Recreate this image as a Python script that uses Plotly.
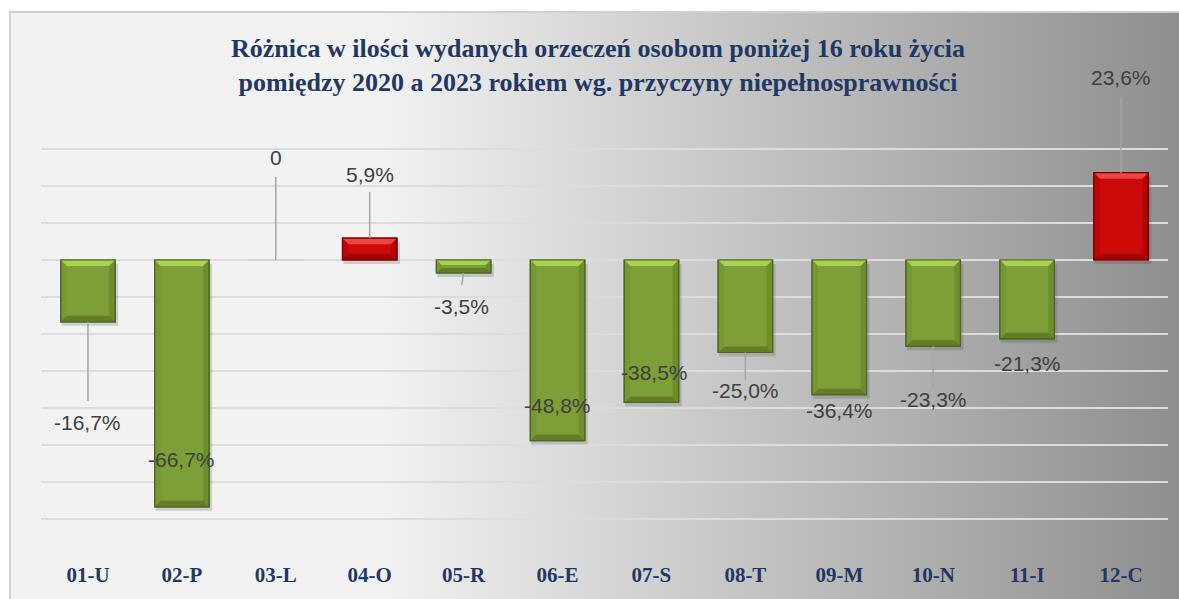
import base64, struct, zlib
import plotly.graph_objects as go

# ---------------- data ----------------
categories = ["01-U", "02-P", "03-L", "04-O", "05-R", "06-E",
              "07-S", "08-T", "09-M", "10-N", "11-I", "12-C"]
values = [-16.7, -66.7, 0.0, 5.9, -3.5, -48.8, -38.5, -25.0, -36.4, -23.3, -21.3, 23.6]
title_text = ("Różnica w ilości wydanych orzeczeń osobom poniżej 16 roku życia<br>"
              "pomiędzy 2020 a 2023 rokiem wg. przyczyny niepełnosprawności")
grid_ticks = [-80, -70, -60, -50, -40, -30, -20, -10, 0, 10, 20, 30]

# label placement (layout, not data)
label_y = [-43.8, -54.0, 27.6, 23.2, -12.7, -39.2, -30.3, -35.4, -40.8, -37.8, -28.1, 49.2]
label_dx = [0, 0, 0, 0, -0.02, 0, 0.03, 0, 0, 0, 0, 0]
leader_end = [-38.1, None, 22.4, 18.4, -6.8, None, None, -32.4, None, -34.6, None, 44.0]

# ---------------- geometry ----------------
W, H = 1179, 599
ML, MR, MT, MB = 41, 11, 68, 43
PX_PER_UNIT = 3.7
plot_h = H - MT - MB
plot_w = W - ML - MR
y_min = -80
y_max = y_min + plot_h / PX_PER_UNIT
px_per_cat = plot_w / len(categories)
BAR_W = 0.58


def px2paper_x(px):
    return (px - ML) / plot_w


def px2paper_y(py):
    return (H - MB - py) / plot_h


# ---------------- background gradient image ----------------
def gradient_png():
    x0 = 10
    w = W - x0
    row = bytearray([0])
    for i in range(w):
        px = x0 + i
        if px < 380:
            c = 242
        else:
            c = int(round(242 - (px - 380) * 0.125))
        row += bytes([c, c, c])
    raw = bytes(row) + bytes(row)

    def chunk(tag, data):
        return (struct.pack(">I", len(data)) + tag + data +
                struct.pack(">I", zlib.crc32(tag + data) & 0xffffffff))

    png = b"\x89PNG\r\n\x1a\n"
    png += chunk(b"IHDR", struct.pack(">IIBBBBB", w, 2, 8, 2, 0, 0, 0))
    png += chunk(b"IDAT", zlib.compress(raw, 9))
    png += chunk(b"IEND", b"")
    return "data:image/png;base64," + base64.b64encode(png).decode()


fig = go.Figure()

xs = list(range(len(categories)))
green = "#7d9f37"
red = "#cc0a0a"
bar_colors = [red if v > 0 else green for v in values]
edge_colors = ["#7a0000" if v > 0 else ("#4d6620" if v < 0 else "rgba(200,200,200,0.6)")
               for v in values]

fig.add_trace(go.Bar(
    x=xs, y=values, width=BAR_W,
    marker=dict(color=bar_colors, line=dict(color=edge_colors, width=1.2)),
    hoverinfo="skip", showlegend=False,
))

shapes = []
# frame
shapes.append(dict(type="rect", xref="paper", yref="paper",
                   x0=px2paper_x(10), x1=px2paper_x(W + 5),
                   y0=px2paper_y(12), y1=px2paper_y(H + 5),
                   line=dict(color="#d0d0d0", width=2), fillcolor="rgba(0,0,0,0)",
                   layer="below"))

dx_unit = 6 / px_per_cat
dy_unit = 6 / PX_PER_UNIT
for i, v in enumerate(values):
    if v == 0:
        continue
    x0, x1 = i - BAR_W / 2, i + BAR_W / 2
    top, bot = max(v, 0), min(v, 0)
    h = top - bot
    dy = min(dy_unit, h / 2.6)
    dx = dx_unit * dy / dy_unit
    pos = v > 0
    hi = "#ee4444" if pos else "#a9d152"
    lo = "#a00000" if pos else "#627f28"
    side_l = "#bb0000" if pos else "#71912f"
    # shadow
    sx = 3 / px_per_cat
    sy = 4 / PX_PER_UNIT
    shapes.append(dict(type="rect", xref="x", yref="y",
                       x0=x0 + sx * 0.3, x1=x1 + sx, y0=bot - sy, y1=top - sy,
                       fillcolor="rgba(60,60,60,0.2)", line=dict(width=0), layer="between"))
    # top bevel
    shapes.append(dict(type="path", xref="x", yref="y",
                       path=f"M{x0},{top} L{x1},{top} L{x1 - dx},{top - dy} L{x0 + dx},{top - dy} Z",
                       fillcolor=hi, line=dict(width=0), layer="above"))
    # bottom bevel
    shapes.append(dict(type="path", xref="x", yref="y",
                       path=f"M{x0},{bot} L{x1},{bot} L{x1 - dx},{bot + dy} L{x0 + dx},{bot + dy} Z",
                       fillcolor=lo, line=dict(width=0), layer="above"))
    # right side bevel
    shapes.append(dict(type="path", xref="x", yref="y",
                       path=f"M{x1},{top} L{x1},{bot} L{x1 - dx},{bot + dy} L{x1 - dx},{top - dy} Z",
                       fillcolor=lo, opacity=0.55, line=dict(width=0), layer="above"))
    # left side bevel
    shapes.append(dict(type="path", xref="x", yref="y",
                       path=f"M{x0},{top} L{x0},{bot} L{x0 + dx},{bot + dy} L{x0 + dx},{top - dy} Z",
                       fillcolor=side_l, opacity=0.55, line=dict(width=0), layer="above"))
    # outline redraw
    shapes.append(dict(type="rect", xref="x", yref="y", x0=x0, x1=x1, y0=bot, y1=top,
                       line=dict(color=edge_colors[i], width=1.2),
                       fillcolor="rgba(0,0,0,0)", layer="above"))

# leader lines
for i, v in enumerate(values):
    e = leader_end[i]
    if e is None:
        continue
    shapes.append(dict(type="line", xref="x", yref="y",
                       x0=i, x1=i + label_dx[i], y0=v, y1=e,
                       line=dict(color="#a6a6a6", width=1.5), layer="above"))


def fmt(v):
    if v == 0:
        return "0"
    return f"{v:.1f}%".replace(".", ",")


annotations = []
for i, v in enumerate(values):
    annotations.append(dict(x=i + label_dx[i], y=label_y[i], xref="x", yref="y",
                            text=fmt(v), showarrow=False, xanchor="center", yanchor="middle",
                            font=dict(family="Liberation Sans, Arial, sans-serif",
                                      size=21, color="#404040")))

fig.update_layout(
    width=W, height=H,
    margin=dict(l=ML, r=MR, t=MT, b=MB, pad=0),
    paper_bgcolor="white",
    plot_bgcolor="rgba(0,0,0,0)",
    title=dict(text=title_text, x=598 / W, xanchor="center", xref="container",
               y=1 - 57 / H, yanchor="middle", yref="container",
               font=dict(family="Liberation Serif, Times New Roman, serif",
                         size=26, color="#1f3864", weight="bold")),
    xaxis=dict(range=[-0.5, len(categories) - 0.5], tickmode="array",
               tickvals=xs, ticktext=categories, showgrid=False, zeroline=False,
               showline=False, ticks="",
               tickfont=dict(family="Liberation Serif, Times New Roman, serif",
                             size=21, color="#1f3864", weight="bold"),
               ticklabelstandoff=4),
    yaxis=dict(range=[y_min, y_max], tickmode="array", tickvals=grid_ticks,
               showticklabels=False, showgrid=True, gridcolor="#dcdcdc", gridwidth=2,
               zeroline=False, showline=False, ticks=""),
    images=[dict(source=gradient_png(), xref="paper", yref="paper",
                 x=px2paper_x(10), y=px2paper_y(12),
                 sizex=(W - 10) / plot_w, sizey=(H - 12) / plot_h,
                 xanchor="left", yanchor="top", sizing="stretch", layer="below")],
    shapes=shapes,
    annotations=annotations,
    bargap=0.42,
)

fig.write_html("out.html", config={"displayModeBar": False},
               post_script="document.body.style.margin='0';document.body.style.overflow='hidden';")
